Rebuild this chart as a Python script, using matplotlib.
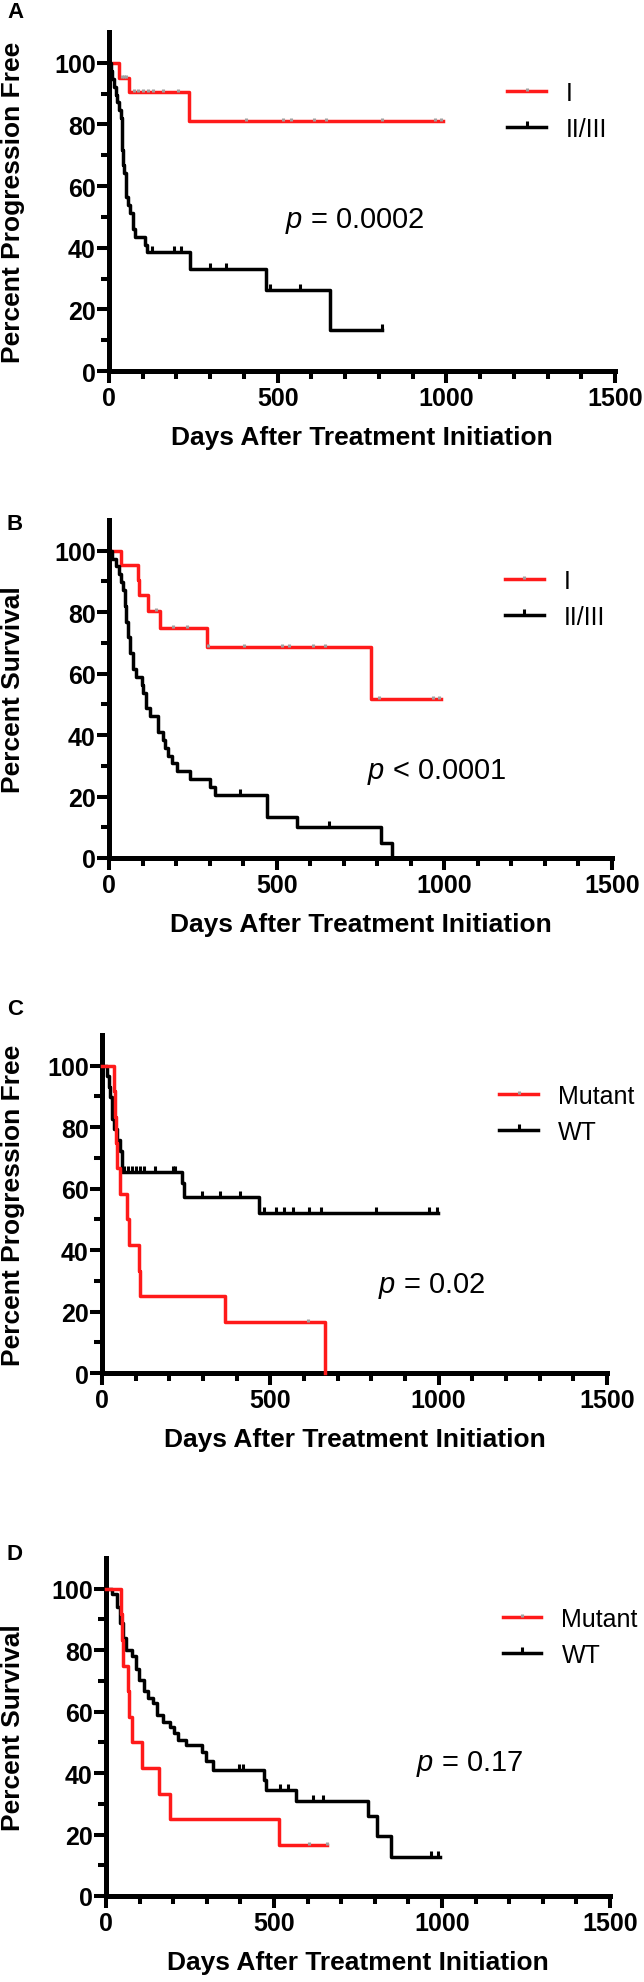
import numpy as np
import matplotlib
matplotlib.use("Agg")
import matplotlib.pyplot as plt
from matplotlib.lines import Line2D
from matplotlib.ticker import MultipleLocator

plt.rcParams["font.family"] = ["Liberation Sans", "DejaVu Sans"]
plt.rcParams["mathtext.fontset"] = "custom"
plt.rcParams["mathtext.it"] = "Liberation Sans:italic"
plt.rcParams["mathtext.rm"] = "Liberation Sans"

# ==========================
# Data (days, percent)
# ==========================

# A - progression free, stage
a_stage1_t = [0, 30, 59, 238, 991]
a_stage1_s = [100, 95.2, 90.5, 81.0, 81.0]
a_stage1_cens = [40, 45, 50, 74, 86, 100, 115, 130, 160, 204, 405, 515, 539, 607, 643, 808, 967, 985]

a_stage23_t = [0, 5, 10, 15, 20, 25, 30, 36, 38, 40, 42, 44, 49, 55, 63, 70, 78, 108, 114, 240, 464, 655, 810]
a_stage23_s = [100, 97.4, 94.9, 92.3, 89.7, 87.2, 84.6, 82.1, 76.9, 71.8, 66.7, 64.1, 56.4, 53.8,
               51.3, 46.2, 43.6, 41.0, 38.5, 33.0, 26.4, 13.2, 13.2]
a_stage23_cens = [126, 194, 212, 298, 346, 478, 567, 810]

# B - survival, stage
b_stage1_t = [0, 37, 87, 89, 115, 152, 292, 781, 991]
b_stage1_s = [100, 95.2, 90.5, 85.7, 80.4, 75.0, 68.8, 51.6, 51.6]
b_stage1_cens = [140, 192, 232, 295, 403, 517, 537, 607, 643, 806, 967, 985]

b_stage23_t = [0, 10, 22, 30, 37, 42, 47, 52, 57, 64, 72, 82, 97, 102, 110, 122, 147, 160, 167, 177,
               187, 202, 242, 301, 316, 472, 561, 810, 845]
b_stage23_s = [100, 97.4, 94.9, 92.3, 89.7, 87.2, 82.1, 76.9, 71.8, 66.7, 61.5, 59.0, 56.4, 53.8,
               48.7, 46.2, 41.0, 38.5, 35.9, 33.3, 30.8, 28.2, 25.6, 23.1, 20.5, 13.4, 10.1, 5.0, 0]
b_stage23_cens = [391, 655]

# C - progression free, mutation
c_mut_t = [0, 36, 39, 42, 45, 52, 75, 80, 110, 113, 366, 662]
c_mut_s = [100, 91.7, 83.3, 75.0, 66.7, 58.3, 50.0, 41.7, 33.3, 25.0, 16.7, 0]
c_mut_cens = [613]

c_wt_t = [0, 14, 20, 25, 30, 35, 45, 52, 60, 238, 243, 466, 999]
c_wt_s = [100, 96.6, 93.1, 89.7, 82.8, 79.3, 75.9, 72.4, 65.5, 61.9, 57.2, 52.0, 52.0]
c_wt_cens = [64, 76, 88, 101, 113, 125, 156, 211, 217, 297, 350, 411,
             481, 518, 542, 567, 616, 650, 815, 972, 996]

# D - survival, mutation
d_mut_t = [0, 46, 48, 50, 65, 67, 77, 107, 158, 189, 515, 658]
d_mut_s = [100, 91.7, 83.3, 75.0, 66.7, 58.3, 50.0, 41.7, 33.3, 25.0, 16.7, 16.7]
d_mut_cens = [605, 658]

d_wt_t = [0, 18, 34, 43, 51, 61, 77, 89, 97, 113, 125, 140, 152, 171, 189, 201, 213, 238, 286, 298,
          317, 469, 475, 564, 780, 808, 847, 993]
d_wt_s = [100, 98.4, 94, 89, 84, 80, 78, 74, 70.3, 66.8, 64.3, 62.8, 59, 56.5, 55, 53, 50.9, 49.2,
          46.8, 44, 40.9, 37.8, 34.6, 30.9, 25.9, 19.6, 12.7, 12.7]
d_wt_cens = [396, 408, 518, 542, 615, 645, 968, 987]

p_values = ["$p$ = 0.0002", "$p$ < 0.0001", "$p$ = 0.02", "$p$ = 0.17"]
y_labels = ["Percent Progression Free", "Percent Survival", "Percent Progression Free", "Percent Survival"]
panel_letters = ["A", "B", "C", "D"]
legend_labels = [["I", "II/III"], ["I", "II/III"], ["Mutant", "WT"], ["Mutant", "WT"]]

RED = "#ff1a1a"
GREY = "#a0a0a0"
TICK_UP = [(0, 0), (0, 1)]  # censor mark: short tick above the line

W, H = 644, 1983


def box(l, r, t, b):
    return [l / W, 1 - b / H, (r - l) / W, (b - t) / H]


# pixel boxes (left, right, top, bottom) of each panel
boxes = [(109, 615, 33, 372), (109, 612, 521, 859), (102, 607, 1036, 1374), (106, 610, 1559, 1897)]
p_pos = [(521, 49), (770, 28.4), (820, 28.5), (922, 43.4)]
letter_pos = [(16, 13), (15, 525), (15, 1010), (15, 1555)]

curves = [
    ((a_stage1_t, a_stage1_s, a_stage1_cens), (a_stage23_t, a_stage23_s, a_stage23_cens), False),
    ((b_stage1_t, b_stage1_s, b_stage1_cens), (b_stage23_t, b_stage23_s, b_stage23_cens), False),
    ((c_mut_t, c_mut_s, c_mut_cens), (c_wt_t, c_wt_s, c_wt_cens), True),
    ((d_mut_t, d_mut_s, d_mut_cens), (d_wt_t, d_wt_s, d_wt_cens), True),
]


def step_at(t, s, x):
    idx = np.searchsorted(np.array(t), np.array(x), side="right") - 1
    return np.array(s)[idx]


def draw_curve(ax, t, s, cens, color, tick_color, z, ms):
    ax.step(t, s, where="post", color=color, lw=2.5, zorder=z, clip_on=False)
    ax.plot(cens, step_at(t, s, cens), ls="none", marker=TICK_UP, ms=ms, mew=2.2,
            color=tick_color, zorder=z + 0.5, clip_on=False)


fig = plt.figure(figsize=(W / 100, H / 100), dpi=100)

for i in range(4):
    l, r, t, b = boxes[i]
    ax = fig.add_axes(box(l, r, t, b))
    red, black, red_on_top = curves[i]
    zr = 4 if red_on_top else 2
    zb = 2 if red_on_top else 4
    draw_curve(ax, *red, RED, GREY, zr, 5)
    draw_curve(ax, *black, "black", "black", zb, 8)

    ax.set_xlim(0, 1500)
    ax.set_ylim(0, 110)
    ax.set_xticks([0, 500, 1000, 1500])
    ax.set_yticks([0, 20, 40, 60, 80, 100])
    ax.xaxis.set_minor_locator(MultipleLocator(100))
    ax.set_yticks([10, 30, 50, 70, 90], minor=True)
    for side in ["top", "right"]:
        ax.spines[side].set_visible(False)
    for side in ["left", "bottom"]:
        ax.spines[side].set_linewidth(3.6)
    ax.tick_params(which="major", length=8.6, width=2.9, labelsize=18, pad=2)
    ax.tick_params(which="minor", length=5.8, width=2.9)
    ax.tick_params(axis="y", which="major", pad=1)
    for lab in ax.get_xticklabels() + ax.get_yticklabels():
        lab.set_fontweight("bold")

    axw = r - l
    axh = b - t
    ax.set_xlabel("Days After Treatment Initiation", fontsize=19, fontweight="bold", va="center")
    ax.xaxis.set_label_coords(0.5, -66 / axh)
    ax.set_ylabel(y_labels[i], fontsize=19, fontweight="bold", va="center")
    ax.yaxis.set_label_coords(-(l - 13) / axw, 0.5)

    handles = [
        Line2D([], [], color=RED, lw=2.5, marker=TICK_UP, ms=5, mew=2.2, mec=GREY),
        Line2D([], [], color="black", lw=2.5, marker=TICK_UP, ms=8, mew=2.2, mec="black"),
    ]
    ax.legend(handles, legend_labels[i], loc="center left", bbox_to_anchor=(0.787, 0.767),
              frameon=False, fontsize=18, handlelength=1.55, handletextpad=0.8,
              labelspacing=0.5, borderpad=0, borderaxespad=0)

    px, py = p_pos[i]
    ax.text(px, py, p_values[i], fontsize=21, ha="left", va="center")

    lx, ly = letter_pos[i]
    fig.text(lx / W, 1 - ly / H, panel_letters[i], fontsize=16, fontweight="bold",
             ha="center", va="center")

fig.savefig("out.png", dpi=100)
